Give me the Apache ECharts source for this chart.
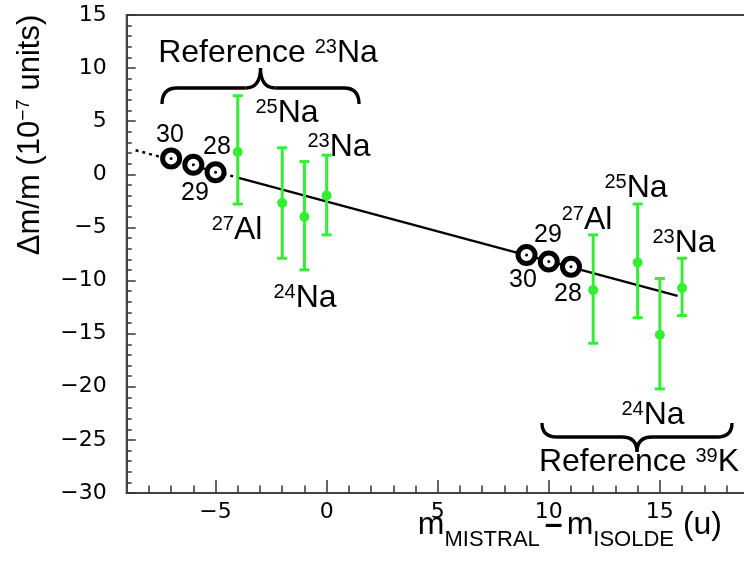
<!DOCTYPE html>
<html>
<head>
<meta charset="utf-8">
<script src="https://cdn.jsdelivr.net/npm/echarts@6/dist/echarts.min.js"></script>
<style>
  html, body { margin: 0; padding: 0; background: #fff; }
  #main { width: 744px; height: 563px; }
</style>
</head>
<body>
<div id="main"></div>
<script>
// fit line (dotted part, then solid part)
const fitDashX = [-8.6, -4.0];
const fitDashY = [2.27, -0.31];
const fitSolidX = [-4.0, 15.8];
const fitSolidY = [-0.31, -11.44];

// calibration points (black rings), 30 / 29 / 28 on each side
const calibX = [-7, -6, -5, 9, 10, 11];
const calibY = [1.5, 0.9, 0.2, -7.6, -8.2, -8.7];

// isotope measurements with error bars
const isoX = [-4, -2, -1, 0, 12, 14, 15, 16];
const isoY = [2.1, -2.7, -4.0, -2.0, -10.9, -8.3, -15.1, -10.7];
const isoLow = [-2.8, -7.9, -9.0, -5.7, -15.9, -13.5, -20.2, -13.3];
const isoHigh = [7.4, 2.5, 1.2, 1.8, -5.7, -2.8, -9.8, -7.9];

const xMajorTicks = [-5, 0, 5, 10, 15];
const xMinorTicks = [-8, -7, -6, -5, -4, -3, -2, -1, 0, 1, 2, 3, 4, 5, 6, 7, 8, 9,
  10, 11, 12, 13, 14, 15, 16, 17, 18];

const GREEN = '#33ee33';
const FONT = 'Liberation Sans, Arial, sans-serif';
const TICKFONT = 'DejaVu Sans, sans-serif';

let chart = echarts.init(document.getElementById('main'), null, {renderer: 'canvas'});

const zip = (a, b) => a.map((v, i) => [v, b[i]]);
const minus = v => String(v).replace('-', '\u2212');

const supRich = {
  m: {fontSize: 32, lineHeight: 32, fontFamily: FONT, color: '#000'},
  s: {fontSize: 20, lineHeight: 20, fontFamily: FONT, color: '#000', verticalAlign: 'top'}
};

function isoLabel(mass, sym, x, y) {
  return {
    type: 'text', x: x, y: y, z: 100,
    style: {
      text: '{s|' + mass + '}{m|' + sym + '}',
      rich: supRich, align: 'center', verticalAlign: 'middle'
    }
  };
}

function numLabel(txt, x, y) {
  return {
    type: 'text', x: x, y: y, z: 100,
    style: {
      text: txt, fontSize: 25, fontFamily: FONT, fill: '#000',
      align: 'center', verticalAlign: 'middle'
    }
  };
}

// curly brace: ends at yEnd, long arms at yArm, tip at yTip
function brace(x1, x2, yEnd, yArm, yTip) {
  let xm = (x1 + x2) / 2, r = 15;
  let st = {stroke: '#000', lineWidth: 3.3, fill: 'none'};
  let q = (ax, ay, cx, cy, bx, by) => ({
    type: 'bezierCurve', z: 100, style: st,
    shape: {x1: ax, y1: ay, cpx1: cx, cpy1: cy, x2: bx, y2: by}
  });
  let l = (ax, ay, bx, by) => ({
    type: 'line', z: 100, style: st, shape: {x1: ax, y1: ay, x2: bx, y2: by}
  });
  return {
    type: 'group',
    children: [
      q(x1, yEnd, x1, yArm, x1 + r, yArm),
      l(x1 + r, yArm, xm - r, yArm),
      q(xm - r, yArm, xm, yArm, xm, yTip),
      q(xm, yTip, xm, yArm, xm + r, yArm),
      l(xm + r, yArm, x2 - r, yArm),
      q(x2 - r, yArm, x2, yArm, x2, yEnd)
    ]
  };
}

function errorBars(params, api) {
  let x = api.value(0);
  let top = api.coord([x, api.value(2)]);
  let bot = api.coord([x, api.value(1)]);
  let w = 5;
  let st = {stroke: GREEN, lineWidth: 3};
  return {
    type: 'group',
    children: [
      {type: 'line', shape: {x1: top[0], y1: top[1], x2: bot[0], y2: bot[1]}, style: st},
      {type: 'line', shape: {x1: top[0] - w, y1: top[1], x2: top[0] + w, y2: top[1]}, style: st},
      {type: 'line', shape: {x1: bot[0] - w, y1: bot[1], x2: bot[0] + w, y2: bot[1]}, style: st}
    ]
  };
}

let option = {
  animation: false,
  backgroundColor: '#fff',
  grid: {
    left: 126.7, top: 15, width: 622, height: 478,
    outerBoundsMode: 'none', containLabel: false,
    show: true, borderColor: '#444', borderWidth: 2, backgroundColor: 'transparent'
  },
  xAxis: [
    {
      type: 'value', min: -9, max: 19, position: 'bottom',
      axisLine: {show: true, onZero: false, lineStyle: {color: '#444', width: 2}},
      axisTick: {show: true, inside: true, length: 13, customValues: xMajorTicks,
        lineStyle: {color: '#333', width: 1.5}},
      axisLabel: {show: true, customValues: xMajorTicks, formatter: minus, margin: 8,
        fontFamily: TICKFONT, fontSize: 22, color: '#000'},
      splitLine: {show: false}
    },
    {
      type: 'value', min: -9, max: 19, position: 'bottom',
      axisLine: {show: false, onZero: false},
      axisTick: {show: true, inside: true, length: 7.5, customValues: xMinorTicks,
        lineStyle: {color: '#333', width: 1.5}},
      axisLabel: {show: false},
      splitLine: {show: false}
    }
  ],
  yAxis: {
    type: 'value', min: -30, max: 15, interval: 5,
    axisLine: {show: true, onZero: false, lineStyle: {color: '#444', width: 2}},
    axisTick: {show: true, inside: true, length: 9, lineStyle: {color: '#333', width: 1.5}},
    minorTick: {show: true, splitNumber: 5, length: 5, lineStyle: {color: '#333', width: 1.5}},
    axisLabel: {formatter: minus, margin: 20, fontFamily: TICKFONT, fontSize: 22, color: '#000'},
    splitLine: {show: false}
  },
  series: [
    {
      type: 'line', xAxisIndex: 0, data: zip(fitDashX, fitDashY), symbol: 'none',
      lineStyle: {color: '#000', width: 2.5, type: [3, 4]}, z: 2
    },
    {
      type: 'line', xAxisIndex: 0, data: zip(fitSolidX, fitSolidY), symbol: 'none',
      lineStyle: {color: '#000', width: 2.5}, z: 2
    },
    {
      type: 'custom', xAxisIndex: 0, renderItem: errorBars,
      data: isoX.map((v, i) => [v, isoLow[i], isoHigh[i]]), z: 3
    },
    {
      type: 'scatter', xAxisIndex: 0, data: zip(isoX, isoY), symbol: 'circle', symbolSize: 10,
      itemStyle: {color: GREEN, opacity: 1}, z: 4
    },
    {
      type: 'scatter', xAxisIndex: 0, data: zip(calibX, calibY), symbol: 'circle', symbolSize: 17,
      itemStyle: {color: '#fff', borderColor: '#000', borderWidth: 5, opacity: 1}, z: 5
    },
    {
      type: 'scatter', xAxisIndex: 0, data: zip(calibX, calibY), symbol: 'circle', symbolSize: 3,
      itemStyle: {color: '#000', opacity: 1}, z: 6
    }
  ],
  graphic: [
    // axis titles
    {
      type: 'text', x: 30, y: 135, rotation: Math.PI / 2,
      style: {
        text: '{m|\u0394m/m (10}{s|\u22127}{m| units)}',
        rich: {
          m: {fontSize: 31, lineHeight: 31, fontFamily: FONT, color: '#000'},
          s: {fontSize: 19, lineHeight: 19, fontFamily: FONT, color: '#000', verticalAlign: 'top'}
        },
        align: 'center', verticalAlign: 'middle'
      }
    },
    {
      type: 'text', x: 722, y: 500.5,
      style: {
        text: '{m|m}{b|MISTRAL}{d|\u2013}{m|m}{b|ISOLDE}{m| (u)}',
        rich: {
          m: {fontSize: 32, lineHeight: 50, fontFamily: FONT, color: '#000'},
          d: {fontSize: 32, lineHeight: 50, fontFamily: FONT, color: '#000', fontWeight: 'bold',
            padding: [0, 4, 0, 5]},
          b: {fontSize: 22, lineHeight: 21, fontFamily: FONT, color: '#000', verticalAlign: 'bottom'}
        },
        align: 'right', verticalAlign: 'top'
      }
    },
    // reference braces
    brace(162, 359, 104, 88, 68),
    brace(542, 732, 423, 437, 452),
    {
      type: 'text', x: 268, y: 53, z: 100,
      style: {text: '{m|Reference }{s|23}{m|Na}', rich: supRich, align: 'center', verticalAlign: 'middle'}
    },
    {
      type: 'text', x: 639, y: 462, z: 100,
      style: {text: '{m|Reference }{s|39}{m|K}', rich: supRich, align: 'center', verticalAlign: 'middle'}
    },
    // left group labels
    numLabel('30', 170, 135),
    numLabel('28', 217, 147),
    numLabel('29', 195, 193),
    isoLabel('27', 'Al', 237, 230),
    isoLabel('25', 'Na', 287, 113),
    isoLabel('23', 'Na', 339, 147),
    isoLabel('24', 'Na', 305, 298),
    // right group labels
    numLabel('29', 548, 235),
    numLabel('30', 523, 280),
    numLabel('28', 568, 294),
    isoLabel('27', 'Al', 587, 220),
    isoLabel('25', 'Na', 636, 188),
    isoLabel('23', 'Na', 684, 243),
    isoLabel('24', 'Na', 653, 415)
  ]
};

chart.setOption(option);
</script>
</body>
</html>
